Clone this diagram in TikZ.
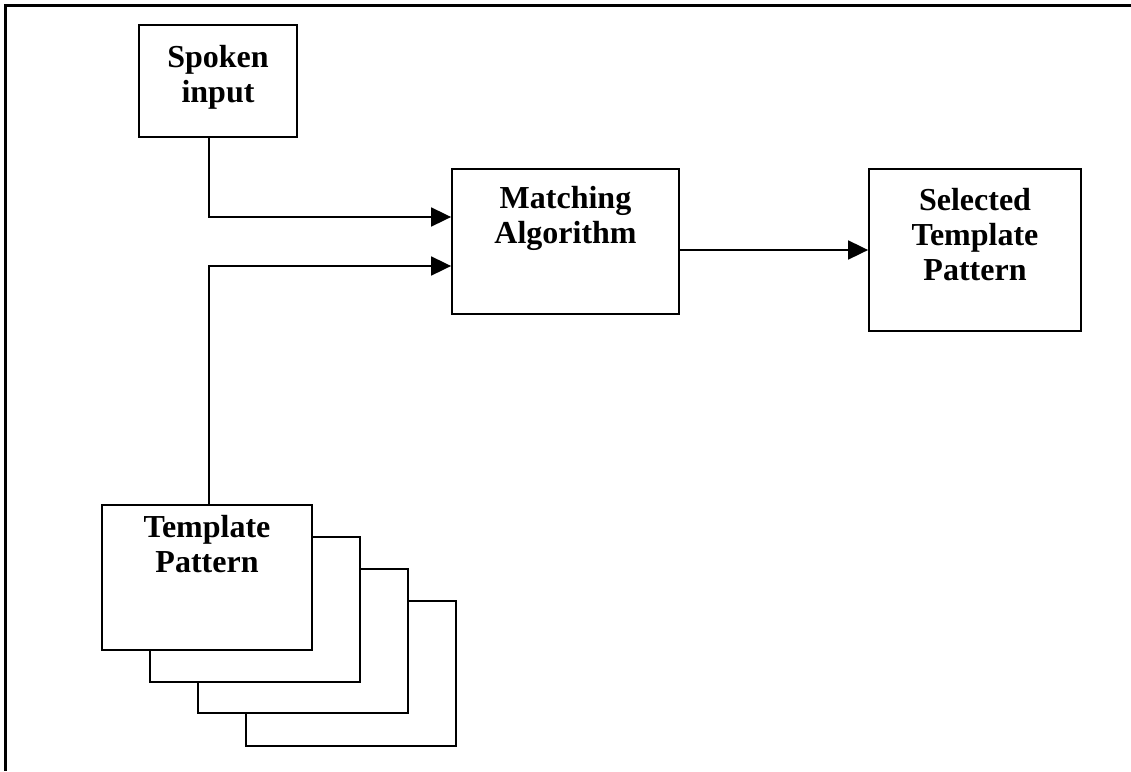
\documentclass[tikz,border=0pt]{standalone}
\usepackage{fontspec}
\setmainfont{Liberation Serif}
\usetikzlibrary{arrows.meta}
\begin{document}
\begin{tikzpicture}[x=1pt,y=-1pt,
  box/.style={draw, line width=1.8pt, fill=white, inner sep=0pt},
  lbl/.style={font=\bfseries\fontsize{32}{35}\selectfont, align=center, inner sep=0pt, anchor=north},
  conn/.style={line width=1.8pt, -{Triangle[length=20pt,width=19pt]}}]
\useasboundingbox (0,0) rectangle (1131,771);

% frame
\draw[line width=2.2pt] (1131,5.5) -- (5.5,5.5) -- (5.5,771);

% blocks
\node[box, minimum width=158pt, minimum height=112pt] (spoken) at (218,81) {};
\node[box, minimum width=227pt, minimum height=145pt] (match) at (565.5,241.5) {};
\node[box, minimum width=212pt, minimum height=162pt] (sel) at (975,250) {};

% stack of template sheets, back to front
\node[box, minimum width=210pt, minimum height=145pt] (sheet3) at (351,673.5) {};
\node[box, minimum width=210pt, minimum height=144pt] (sheet2) at (303,641) {};
\node[box, minimum width=210pt, minimum height=145pt] (sheet1) at (255,609.5) {};
\node[box, minimum width=210pt, minimum height=145pt] (tmpl) at (207,577.5) {};

% labels
\node[lbl] (spokenTxt) at ([yshift=-21pt]spoken.north) {Spoken\\input};
\node[lbl] (matchTxt) at ([yshift=-18pt]match.north) {Matching\\Algorithm};
\node[lbl] (selTxt) at ([yshift=-20pt]sel.north) {Selected\\Template\\Pattern};
\node[lbl] (tmplTxt) at ([yshift=-11pt]tmpl.north) {Template\\Pattern};

% connectors
\coordinate (tap) at (209,0);
\draw[conn] (spoken.south -| tap) |- ([yshift=24.5pt]match.west);
\draw[conn] (tmpl.north -| tap) |- ([yshift=-24.5pt]match.west);
\draw[conn] (match.east |- sel.west) -- (sel.west);
\end{tikzpicture}
\end{document}
